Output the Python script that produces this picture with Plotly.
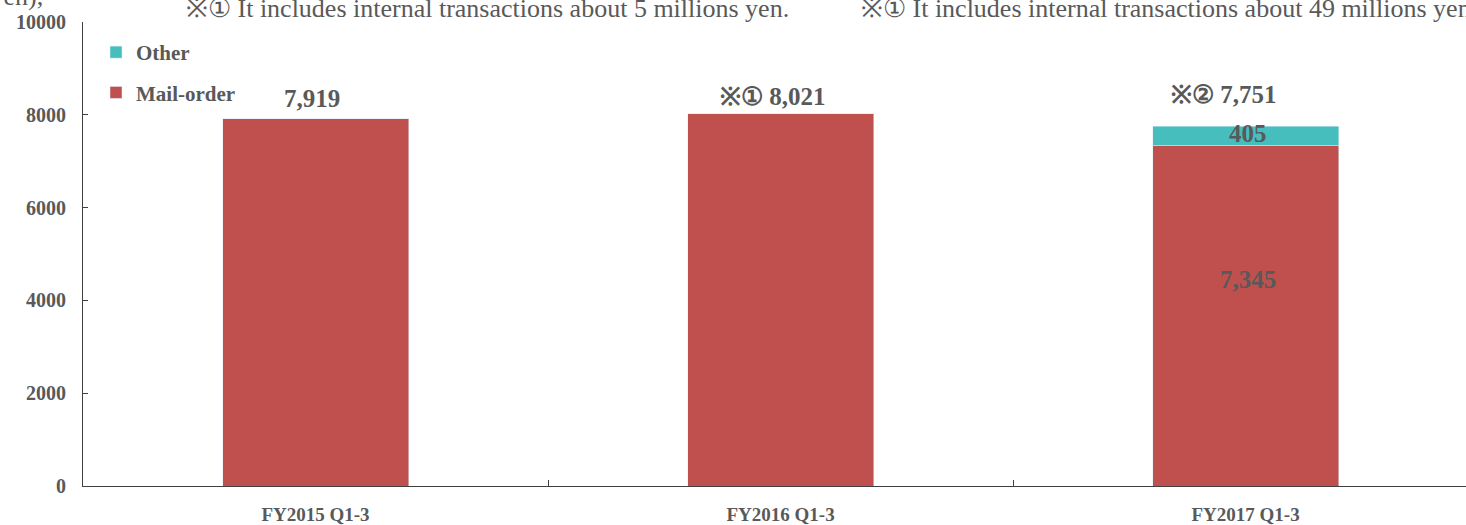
import plotly.graph_objects as go

categories = ["FY2015 Q1-3", "FY2016 Q1-3", "FY2017 Q1-3"]
mail_order = [7919, 8021, 7345]
other = [0, 0, 405]
totals = [7919, 8021, 7751]
total_labels = ["7,919", "※① 8,021", "※② 7,751"]
mail_labels = ["", "", "7,345"]
other_labels = ["", "", "405"]
y_ticks = [0, 2000, 4000, 6000, 8000, 10000]
y_tick_text = ["0", "2000", "4000", "6000", "8000", "10000"]
note1 = "※① It includes internal transactions about 5 millions yen."
note2 = "※① It includes internal transactions about 49 millions yen."
unit_text = "(Millions of yen),"

RED = "#C0504D"
TEAL = "#46BEBD"
GREY = "#595959"
SERIF = "Liberation Serif, Times New Roman, serif"

fig = go.Figure()
fig.add_trace(go.Bar(
    x=categories, y=mail_order, name="Mail-order", marker_color=RED,
    width=0.4, legendgroup="a", legendrank=2,
))
fig.add_trace(go.Bar(
    x=categories, y=other, name="Other", marker_color=TEAL,
    width=0.4, legendgroup="b", legendrank=1,
))

ann = []
shifts = [(-4, 5), (-8, 2), (-22, 16)]
for c, t, lab, (sx, sy) in zip(categories, totals, total_labels, shifts):
    ann.append(dict(x=c, y=t, text=lab, showarrow=False, yanchor="bottom",
                    xshift=sx, yshift=sy,
                    font=dict(family=SERIF, size=25, color=GREY, weight="bold")))
for c, m, o, lab in zip(categories, mail_order, other, other_labels):
    if lab:
        ann.append(dict(x=c, y=m + o / 2, text=lab, showarrow=False, yanchor="middle",
                        xshift=2, yshift=2,
                        font=dict(family=SERIF, size=25, color=GREY, weight="bold")))
for c, m, lab in zip(categories, mail_order, mail_labels):
    if lab:
        ann.append(dict(x=c, y=m / 2, text=lab, showarrow=False, yanchor="middle",
                        xshift=2, yshift=36,
                        font=dict(family=SERIF, size=25, color=GREY, weight="bold")))

ann.append(dict(xref="paper", yref="paper", x=(184 - 83) / 1383, y=1.0, xanchor="left",
                yanchor="middle", yshift=14, text=note1, showarrow=False,
                font=dict(family=SERIF, size=26, color=GREY)))
ann.append(dict(xref="paper", yref="paper", x=(859 - 83) / 1383, y=1.0, xanchor="left",
                yanchor="middle", yshift=14, text=note2, showarrow=False,
                font=dict(family=SERIF, size=26, color=GREY)))
ann.append(dict(xref="paper", yref="paper", x=(45 - 83) / 1383, y=1.0, xanchor="right",
                yanchor="middle", yshift=26, text=unit_text, showarrow=False,
                font=dict(family=SERIF, size=26, color=GREY)))

fig.update_layout(
    width=1466, height=525,
    margin=dict(l=83, r=0, t=22, b=39, autoexpand=False),
    barmode="stack",
    plot_bgcolor="white", paper_bgcolor="white",
    showlegend=True,
    legend=dict(x=(96 - 83) / 1383, y=(464 - 10) / 464, xanchor="left", yanchor="top",
                traceorder="grouped", tracegroupgap=10,
                font=dict(family=SERIF, size=21, color=GREY, weight="bold"),
                bgcolor="rgba(0,0,0,0)"),
    annotations=ann,
    xaxis=dict(range=[-0.5, 2.474], showline=True, linecolor="#404040", linewidth=1,
               ticks="inside", tickson="boundaries", ticklen=6, tickcolor="#404040",
               tickfont=dict(family=SERIF, size=19, color=GREY, weight="bold"),
               ticklabelstandoff=11, showgrid=False, zeroline=False, automargin=False),
    yaxis=dict(range=[0, 10000], tickvals=y_ticks, ticktext=y_tick_text, showline=True,
               linecolor="#404040", linewidth=1, ticks="inside", ticklen=5,
               tickcolor="#404040",
               tickfont=dict(family=SERIF, size=20, color=GREY, weight="bold"),
               ticklabelstandoff=12, showgrid=False, zeroline=False, automargin=False),
)
fig.write_html("out.html")
